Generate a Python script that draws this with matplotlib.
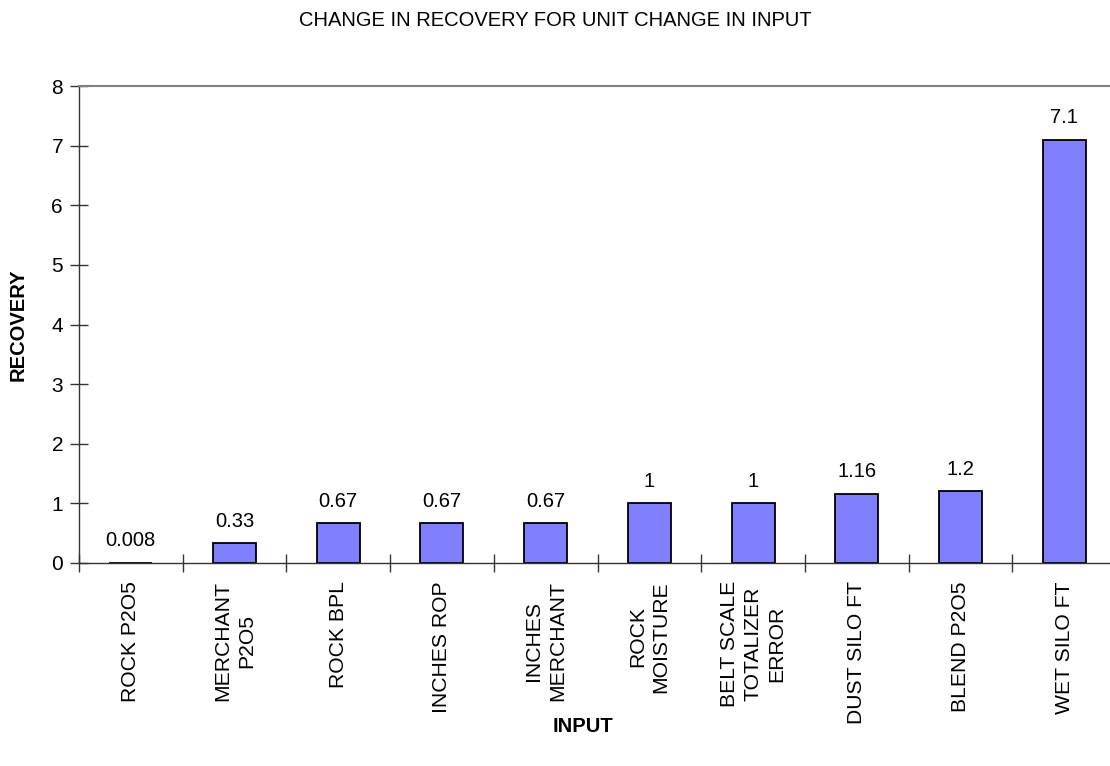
import numpy as np
import matplotlib.pyplot as plt

plt.rcParams['font.family'] = ['Liberation Sans', 'DejaVu Sans']

inputs = ['ROCK P2O5', 'MERCHANT\nP2O5', 'ROCK BPL', 'INCHES ROP',
          'INCHES\nMERCHANT', 'ROCK\nMOISTURE', 'BELT SCALE\nTOTALIZER\nERROR',
          'DUST SILO FT', 'BLEND P2O5', 'WET SILO FT']
recovery = [0.008, 0.33, 0.67, 0.67, 0.67, 1, 1, 1.16, 1.2, 7.1]
value_labels = ['0.008', '0.33', '0.67', '0.67', '0.67', '1', '1', '1.16', '1.2', '7.1']

W, H = 1110, 766
fig = plt.figure(figsize=(W / 100, H / 100), dpi=100)
# plot area runs a bit past the right edge, like the original
ax = fig.add_axes([79 / W, 203 / H, 1037 / W, 477 / H])

x = np.arange(len(inputs))
ax.bar(x, recovery, width=0.415, color='#8080FF', edgecolor='black', linewidth=1.3)

for xi, v, lbl in zip(x, recovery, value_labels):
    ax.annotate(lbl, (xi, v), xytext=(0, 9), textcoords='offset points',
                ha='center', va='bottom', fontsize=14.5)

ax.set_xlim(-0.5, len(inputs) - 0.5)
ax.set_ylim(0, 8)
ax.set_yticks(range(0, 9))

# tick marks between categories, labels at category centers
ax.set_xticks(np.arange(-0.5, len(inputs), 1))
ax.set_xticklabels([])
ax.set_xticks(x, minor=True)
ax.set_xticklabels(inputs, minor=True, rotation=90, ha='center', va='top',
                   multialignment='center', fontsize=15.2, linespacing=1.3)
ax.tick_params(axis='x', which='minor', length=0, pad=13)
ax.tick_params(axis='x', which='major', direction='inout', length=13,
               width=1, color='#333333')
ax.tick_params(axis='y', direction='inout', length=13, width=1,
               color='#333333', labelsize=15, pad=5)

ax.spines['right'].set_visible(False)
ax.spines['top'].set_color('#808080')
ax.spines['top'].set_linewidth(1.5)
ax.spines['left'].set_color('#333333')
ax.spines['bottom'].set_color('#333333')
ax.spines['left'].set_linewidth(1)
ax.spines['bottom'].set_linewidth(1)

fig.text(0.5, 1 - 20 / H, 'CHANGE IN RECOVERY FOR UNIT CHANGE IN INPUT',
         ha='center', va='center', fontsize=14.5)
fig.text(18 / W, 1 - 325 / H, 'RECOVERY', rotation=90, ha='center',
         va='center', fontsize=14.5, fontweight='bold')
fig.text(583 / W, 1 - 727 / H, 'INPUT', ha='center', va='center',
         fontsize=14.5, fontweight='bold')

fig.savefig('out.png', dpi=100)
